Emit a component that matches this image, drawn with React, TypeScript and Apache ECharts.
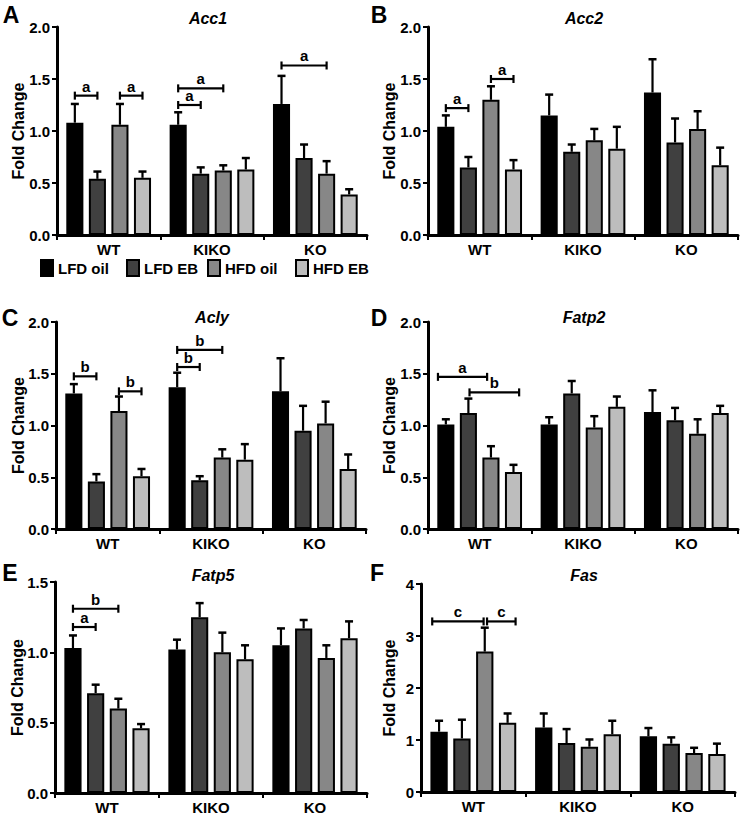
import React, { useEffect, useRef } from 'react';
import * as echarts from 'echarts';

const FONT = '"Liberation Sans", Arial, Helvetica, sans-serif';

const categories = ['WT', 'KIKO', 'KO'];
const groups = ['LFD oil', 'LFD EB', 'HFD oil', 'HFD EB'];
const barColors = ['#000000', '#404040', '#878787', '#bdbdbd'];

// Means per category (rows: WT, KIKO, KO; columns: LFD oil, LFD EB, HFD oil, HFD EB)
const acc1Mean = [[1.08, 0.54, 1.06, 0.55], [1.06, 0.59, 0.62, 0.63], [1.26, 0.74, 0.59, 0.39]];
const acc1Sem = [[0.18, 0.07, 0.2, 0.06], [0.12, 0.06, 0.05, 0.11], [0.27, 0.13, 0.12, 0.05]];
const acc2Mean = [[1.04, 0.65, 1.3, 0.63], [1.15, 0.8, 0.91, 0.83], [1.37, 0.89, 1.02, 0.67]];
const acc2Sem = [[0.11, 0.1, 0.13, 0.09], [0.2, 0.07, 0.11, 0.21], [0.32, 0.23, 0.17, 0.17]];
const aclyMean = [[1.31, 0.46, 1.14, 0.51], [1.37, 0.47, 0.69, 0.67], [1.33, 0.95, 1.02, 0.58]];
const aclySem = [[0.09, 0.07, 0.14, 0.07], [0.14, 0.04, 0.08, 0.15], [0.32, 0.24, 0.21, 0.14]];
const fatp2Mean = [[1.01, 1.12, 0.69, 0.55], [1.01, 1.31, 0.98, 1.18], [1.13, 1.05, 0.92, 1.12]];
const fatp2Sem = [[0.05, 0.14, 0.11, 0.07], [0.07, 0.12, 0.11, 0.1], [0.21, 0.12, 0.14, 0.07]];
const fatp5Mean = [[1.03, 0.71, 0.6, 0.46], [1.02, 1.25, 1.0, 0.95], [1.05, 1.17, 0.96, 1.1]];
const fatp5Sem = [[0.09, 0.06, 0.07, 0.03], [0.07, 0.1, 0.14, 0.1], [0.12, 0.06, 0.09, 0.12]];
const fasMean = [[1.16, 1.03, 2.7, 1.33], [1.24, 0.94, 0.87, 1.11], [1.07, 0.93, 0.75, 0.73]];
const fasSem = [[0.21, 0.36, 0.46, 0.18], [0.27, 0.27, 0.14, 0.26], [0.16, 0.12, 0.1, 0.2]];

// Significance brackets: category, from bar index, to bar index, height, letter
type Bracket = { cat: number; from: number; to: number; y: number; label: string };
const acc1Brackets: Bracket[] = [
  { cat: 0, from: 0, to: 1, y: 1.34, label: 'a' },
  { cat: 0, from: 2, to: 3, y: 1.34, label: 'a' },
  { cat: 1, from: 0, to: 1, y: 1.25, label: 'a' },
  { cat: 1, from: 0, to: 2, y: 1.41, label: 'a' },
  { cat: 2, from: 0, to: 2, y: 1.63, label: 'a' },
];
const acc2Brackets: Bracket[] = [
  { cat: 0, from: 0, to: 1, y: 1.22, label: 'a' },
  { cat: 0, from: 2, to: 3, y: 1.5, label: 'a' },
];
const aclyBrackets: Bracket[] = [
  { cat: 0, from: 0, to: 1, y: 1.475, label: 'b' },
  { cat: 0, from: 2, to: 3, y: 1.33, label: 'b' },
  { cat: 1, from: 0, to: 1, y: 1.565, label: 'b' },
  { cat: 1, from: 0, to: 2, y: 1.73, label: 'b' },
];
const fatp2Brackets: Bracket[] = [
  { cat: 0, from: -0.35, to: 1.83, y: 1.47, label: 'a' },
  { cat: 0, from: 1.05, to: 3.25, y: 1.32, label: 'b' },
];
const fatp5Brackets: Bracket[] = [
  { cat: 0, from: 0, to: 2, y: 1.31, label: 'b' },
  { cat: 0, from: 0, to: 1, y: 1.18, label: 'a' },
];
const fasBrackets: Bracket[] = [
  { cat: 0, from: -0.3, to: 1.95, y: 3.28, label: 'c' },
  { cat: 0, from: 2.1, to: 3.35, y: 3.28, label: 'c' },
];

const CAT_GAP = 0.18;
const BAR_GAP = 0.32;
const legendLefts = [40, 126, 207, 295];

type Panel = {
  letter: string; title: string; mean: number[][]; sem: number[][]; brackets: Bracket[];
  left: number; top: number; width: number; height: number;
  max: number; interval: number; decimals: number;
  letterX: number; letterY: number; titleX: number; titleY: number; nameX: number;
};

const panels: Panel[] = [
  { letter: 'A', title: 'Acc1', mean: acc1Mean, sem: acc1Sem, brackets: acc1Brackets,
    left: 57, top: 27, width: 310, height: 208, max: 2, interval: 0.5, decimals: 1,
    letterX: 11, letterY: 15, titleX: 208, titleY: 18, nameX: 18 },
  { letter: 'B', title: 'Acc2', mean: acc2Mean, sem: acc2Sem, brackets: acc2Brackets,
    left: 428, top: 27, width: 310, height: 208, max: 2, interval: 0.5, decimals: 1,
    letterX: 379, letterY: 15, titleX: 584, titleY: 18, nameX: 389 },
  { letter: 'C', title: 'Acly', mean: aclyMean, sem: aclySem, brackets: aclyBrackets,
    left: 56, top: 322, width: 310, height: 207, max: 2, interval: 0.5, decimals: 1,
    letterX: 10, letterY: 318, titleX: 212, titleY: 317, nameX: 18 },
  { letter: 'D', title: 'Fatp2', mean: fatp2Mean, sem: fatp2Sem, brackets: fatp2Brackets,
    left: 428, top: 322, width: 310, height: 207, max: 2, interval: 0.5, decimals: 1,
    letterX: 379, letterY: 318, titleX: 584, titleY: 317, nameX: 389 },
  { letter: 'E', title: 'Fatp5', mean: fatp5Mean, sem: fatp5Sem, brackets: fatp5Brackets,
    left: 55, top: 582, width: 312, height: 211, max: 1.5, interval: 0.5, decimals: 1,
    letterX: 10, letterY: 573, titleX: 213, titleY: 575, nameX: 17 },
  { letter: 'F', title: 'Fas', mean: fasMean, sem: fasSem, brackets: fasBrackets,
    left: 421, top: 584, width: 314, height: 208, max: 4, interval: 1, decimals: 0,
    letterX: 377, letterY: 573, titleX: 584, titleY: 575, nameX: 389 },
];

function barOffset(band: number, f: number) {
  const remained = band * (1 - CAT_GAP);
  const w = remained / (4 + 3 * BAR_GAP);
  return -remained / 2 + w / 2 + f * w * (1 + BAR_GAP);
}

function buildOption() {
  const grid: any[] = [];
  const xAxis: any[] = [];
  const yAxis: any[] = [];
  const series: any[] = [];
  const graphic: any[] = [];

  panels.forEach((p, pi) => {
    grid.push({ left: p.left, top: p.top, width: p.width, height: p.height, containLabel: false });
    xAxis.push({
      type: 'category', gridIndex: pi, data: categories,
      axisLine: { show: true, lineStyle: { color: '#000', width: 3 } },
      axisTick: { show: true, length: 5, lineStyle: { color: '#000', width: 2 } },
      axisLabel: { color: '#000', fontWeight: 'bold', fontSize: 15, fontFamily: FONT, margin: 7 },
    });
    yAxis.push({
      type: 'value', gridIndex: pi, min: 0, max: p.max, interval: p.interval,
      axisLine: { show: true, lineStyle: { color: '#000', width: 3 } },
      axisTick: { show: true, length: 5, lineStyle: { color: '#000', width: 2 } },
      splitLine: { show: false },
      axisLabel: {
        color: '#000', fontWeight: 'bold', fontSize: 15, fontFamily: FONT, margin: 7,
        formatter: (v: number) => v.toFixed(p.decimals),
      },
    });
    groups.forEach((g, gi) => {
      series.push({
        type: 'bar', name: g, xAxisIndex: pi, yAxisIndex: pi,
        data: p.mean.map((row) => row[gi]),
        barCategoryGap: `${CAT_GAP * 100}%`, barGap: `${BAR_GAP * 100}%`,
        itemStyle: { color: barColors[gi], borderColor: '#000', borderWidth: 2 },
        emphasis: { disabled: true },
        z: 2,
      });
    });
    const errData: number[][] = [];
    p.mean.forEach((row, ci) => row.forEach((m, gi) => errData.push([ci, gi, m, m + p.sem[ci][gi]])));
    series.push({
      type: 'custom', xAxisIndex: pi, yAxisIndex: pi, z: 3, clip: false,
      encode: { x: 0, y: [2, 3] },
      data: errData,
      renderItem: (params: any, api: any) => {
        const c = api.value(0);
        const gi = api.value(1);
        const band = api.size([1, 0])[0];
        const off = barOffset(band, gi);
        const p0 = api.coord([c, api.value(2)]);
        const p1 = api.coord([c, api.value(3)]);
        const x = p0[0] + off;
        return {
          type: 'group',
          children: [
            { type: 'line', shape: { x1: x, y1: p0[1], x2: x, y2: p1[1] }, style: { stroke: '#000', lineWidth: 2.2 } },
            { type: 'line', shape: { x1: x - 4, y1: p1[1], x2: x + 4, y2: p1[1] }, style: { stroke: '#000', lineWidth: 2.5 } },
          ],
        };
      },
    });
    const brs = p.brackets;
    series.push({
      type: 'custom', xAxisIndex: pi, yAxisIndex: pi, z: 4, clip: false,
      encode: { x: 0, y: 1 },
      data: brs.map((b) => [b.cat, b.y]),
      renderItem: (params: any, api: any) => {
        const b = brs[params.dataIndex];
        const band = api.size([1, 0])[0];
        const pt = api.coord([b.cat, b.y]);
        const x1 = pt[0] + barOffset(band, b.from);
        const x2 = pt[0] + barOffset(band, b.to);
        const y = pt[1];
        return {
          type: 'group',
          children: [
            { type: 'line', shape: { x1, y1: y, x2, y2: y }, style: { stroke: '#000', lineWidth: 2.2 } },
            { type: 'line', shape: { x1, y1: y - 4, x2: x1, y2: y + 4 }, style: { stroke: '#000', lineWidth: 2.2 } },
            { type: 'line', shape: { x1: x2, y1: y - 4, x2, y2: y + 4 }, style: { stroke: '#000', lineWidth: 2.2 } },
            {
              type: 'text', x: (x1 + x2) / 2, y: y - 2,
              style: { text: b.label, textAlign: 'center', textVerticalAlign: 'bottom', font: `bold 15px ${FONT}`, fill: '#000' },
            },
          ],
        };
      },
    });

    graphic.push({
      type: 'text', x: p.letterX, y: p.letterY,
      style: { text: p.letter, textAlign: 'center', textVerticalAlign: 'middle', font: `bold 23px ${FONT}`, fill: '#000' },
    });
    graphic.push({
      type: 'text', x: p.titleX, y: p.titleY,
      style: { text: p.title, textAlign: 'center', textVerticalAlign: 'middle', font: `italic bold 16px ${FONT}`, fill: '#000' },
    });
    graphic.push({
      type: 'text', x: p.nameX, y: p.top + p.height / 2, rotation: Math.PI / 2,
      style: { text: 'Fold Change', textAlign: 'center', textVerticalAlign: 'middle', font: `bold 16px ${FONT}`, fill: '#000' },
    });
  });

  const legend = groups.map((g, gi) => ({
    data: [g], left: legendLefts[gi], top: 259, icon: 'rect', padding: 0,
    itemWidth: 12, itemHeight: 16,
    textStyle: { color: '#000', fontWeight: 'bold', fontSize: 15, fontFamily: FONT },
    selectedMode: false,
  }));

  return {
    animation: false,
    backgroundColor: '#ffffff',
    textStyle: { fontFamily: FONT },
    legend,
    grid, xAxis, yAxis, series, graphic,
  };
}

export default function App() {
  const ref = useRef<HTMLDivElement>(null);
  useEffect(() => {
    if (!ref.current) return;
    const chart = echarts.init(ref.current, undefined, { renderer: 'svg' });
    chart.setOption(buildOption() as any);
    return () => chart.dispose();
  }, []);
  return (
    <div
      ref={ref}
      style={{ position: 'fixed', left: 0, top: 0, width: 742, height: 816, background: '#fff' }}
    />
  );
}
